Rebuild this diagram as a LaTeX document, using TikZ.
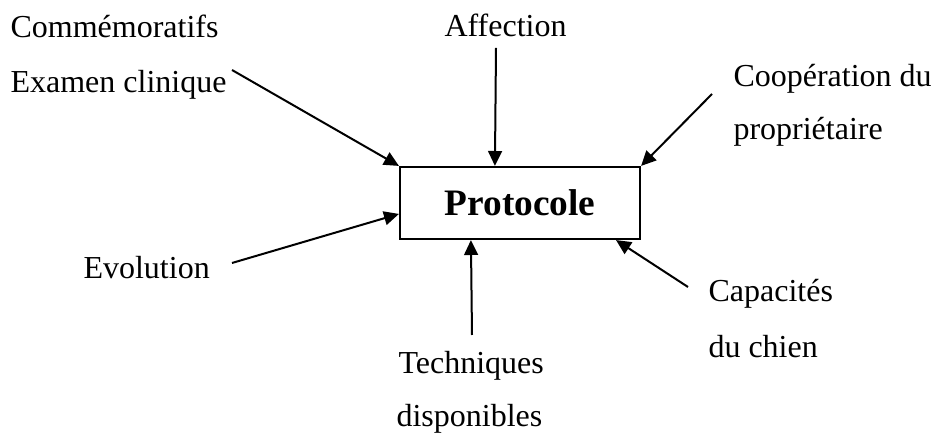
\documentclass[tikz,border=0pt]{standalone}
\usepackage{fontspec}
\setmainfont{Liberation Serif}
\usetikzlibrary{arrows.meta}
\begin{document}
\begin{tikzpicture}[x=0.375pt,y=-0.375pt,
  lbl/.style={anchor=base west,inner sep=0pt,font=\fontsize{12pt}{14pt}\selectfont},
  boxnode/.style={draw,line width=0.8pt,minimum width=90pt,minimum height=27pt,inner sep=0pt,
    font=\fontsize{14pt}{16pt}\selectfont\bfseries},
  feed/.style={line width=0.75pt,-{Triangle[length=5.6pt,width=5.2pt]}}]
\useasboundingbox (0,0) rectangle (936,437);

% central box
\node[boxnode] (box) at (520,203) {Protocole};

% surrounding labels
\node[lbl] (comm) at (10,38) {Commémoratifs};
\node[lbl] (exam) at (10,93) {Examen clinique};
\node[lbl] (aff) at (444,37) {Affection};
\node[lbl] (coop1) at (733,87) {Coopération du};
\node[lbl] (coop2) at (733,140) {propriétaire};
\node[lbl] (evol) at (83,279) {Evolution};
\node[lbl] (cap1) at (708,302) {Capacités};
\node[lbl] (cap2) at (708,358) {du chien};
\node[lbl] (tech1) at (398,374) {Techniques};
\node[lbl] (tech2) at (396,427) {disponibles};

% start points of the connectors
\coordinate (sExam) at (232,70);
\coordinate (sAff) at (496,48);
\coordinate (sCoop) at (712,94);
\coordinate (sEvol) at (232,263);
\coordinate (sTech) at (472,335);
\coordinate (sCap) at (688,287);

% connectors into the box
\draw[feed] (sExam) -- (box.north west);
\draw[feed] (sAff) -- ([xshift=36pt]box.north west);
\draw[feed] (sCoop) -- (box.north east);
\draw[feed] (sEvol) -- ([yshift=-18pt]box.north west);
\draw[feed] (sTech) -- ([xshift=27pt]box.south west);
\draw[feed] (sCap) -- ([xshift=81.4pt]box.south west);
\end{tikzpicture}
\end{document}
